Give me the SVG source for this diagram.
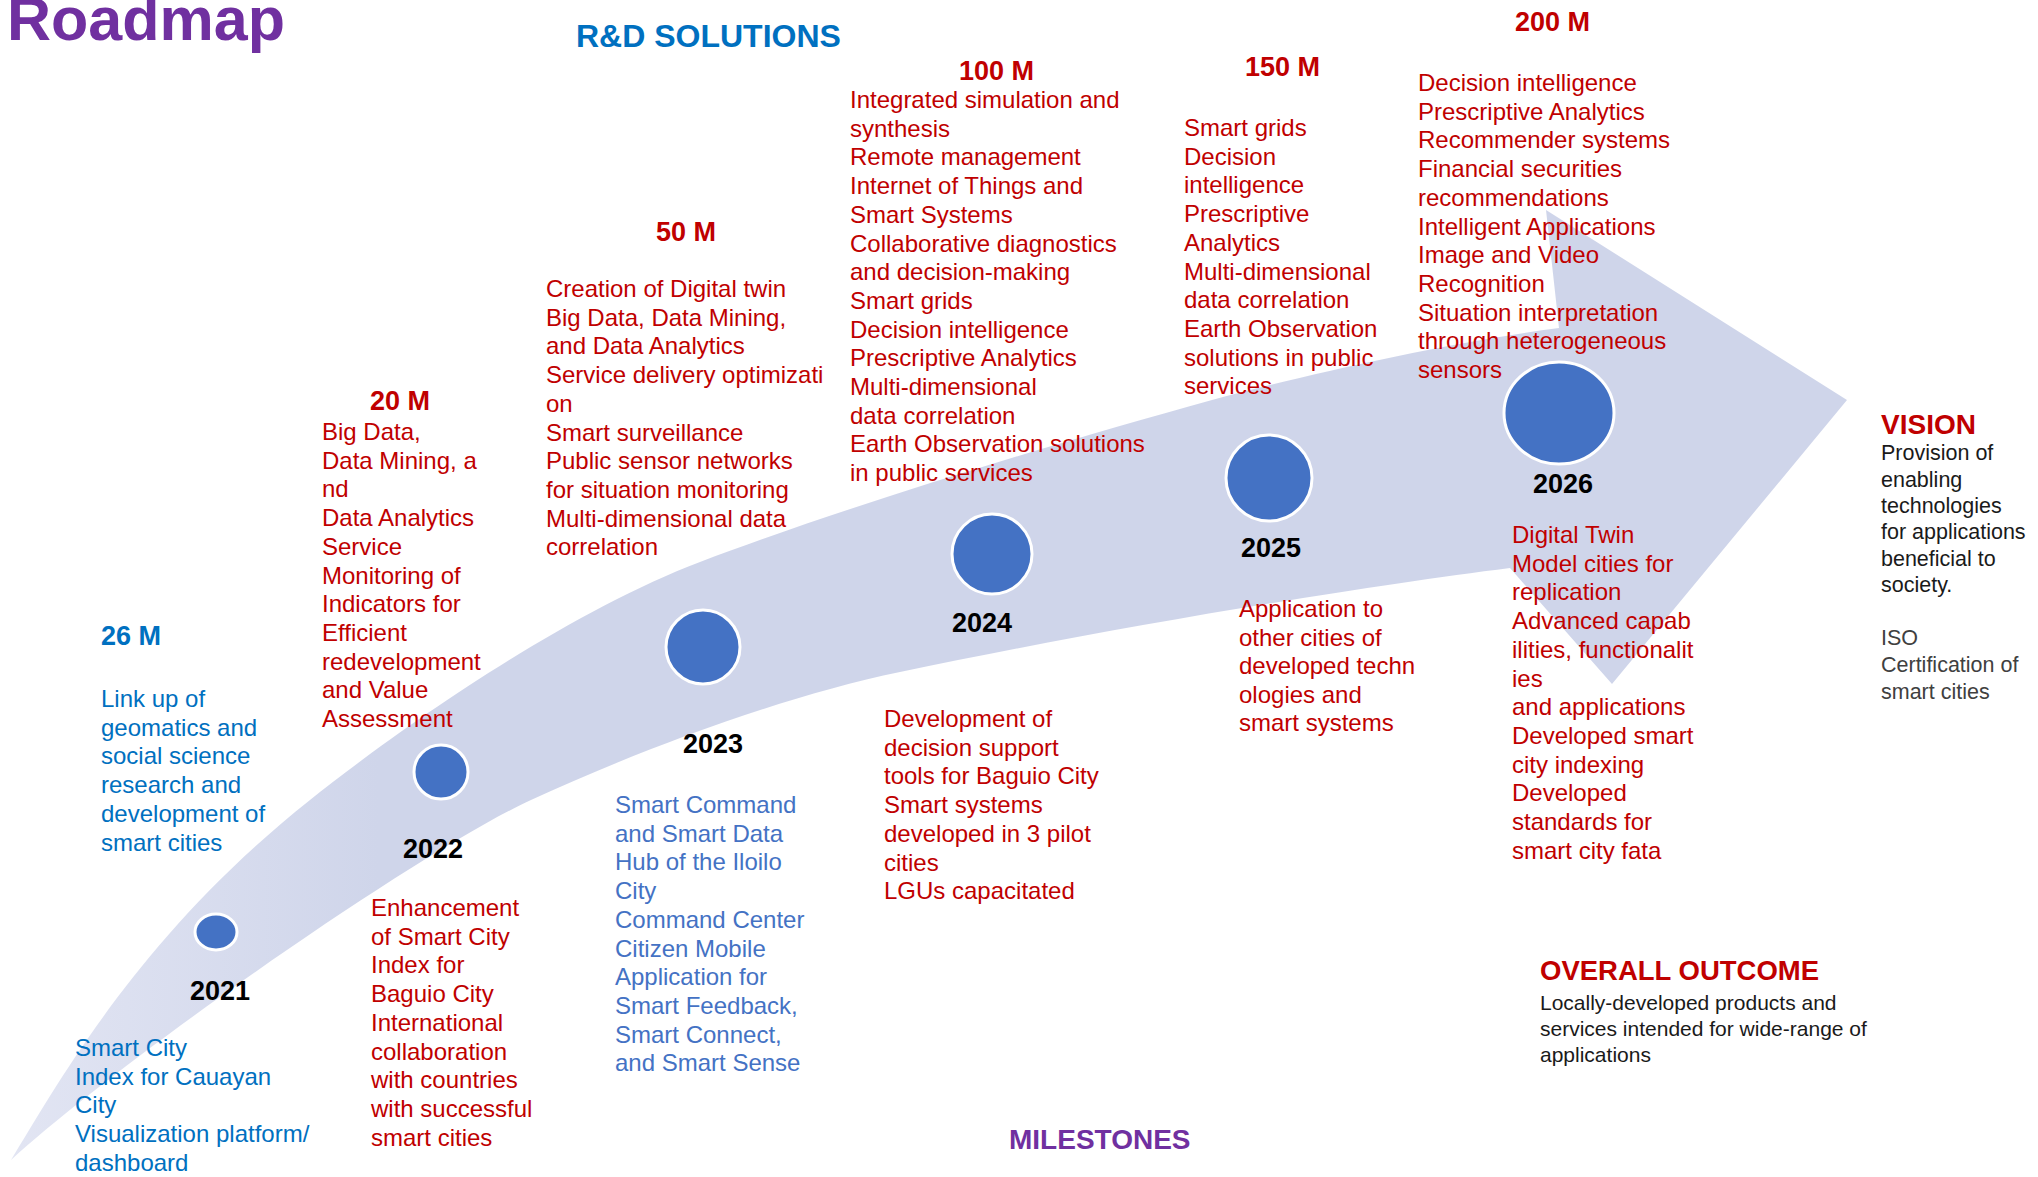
<svg xmlns="http://www.w3.org/2000/svg" width="2038" height="1177" viewBox="0 0 2038 1177">
<defs>
<linearGradient id="ag" x1="0" y1="0" x2="1" y2="0" gradientUnits="objectBoundingBox">
<stop offset="0" stop-color="#E2E5F3"/>
<stop offset="0.2" stop-color="#CFD5EA"/>
<stop offset="1" stop-color="#CFD5EA"/>
</linearGradient>
<style>
text{font-family:"Liberation Sans",Arial,Helvetica,sans-serif}
.t{font-size:24px}
.red{fill:#C00000}
.blu{fill:#0070C0}
.blu2{fill:#4472C4}
.hd{font-size:27px;font-weight:bold}
.yr{font-size:27px;font-weight:bold;fill:#000;text-anchor:middle}
.dot{fill:#4472C4;stroke:#fff;stroke-width:3}
.blk{font-size:21.5px;fill:#1a1a1a}
.gry{font-size:21.5px;fill:#404040}
</style>
</defs>
<rect width="2038" height="1177" fill="#fff"/>
<g id="connectors">
<path id="arrow" fill="url(#ag)" d="M 11 1160 C 60 1080, 140 935, 310 800 C 390 736, 560 615, 700 562 C 850 505, 1050 445, 1212 400 C 1300 376, 1450 342, 1559 328 L 1546 210 L 1847 400 L 1612 684 L 1510 568 C 1350 588, 1100 630, 900 672 C 780 697, 640 750, 531 800 C 420 851, 120 1060, 11 1160 Z"/>
</g>
<g id="title">
<text x="7" y="40" style="font-size:61px;font-weight:bold;fill:#7030A0">Roadmap</text>
<text x="576" y="47" style="font-size:32px;font-weight:bold;fill:#0070C0">R&amp;D SOLUTIONS</text>
<text x="1009" y="1149" style="font-size:28px;font-weight:bold;fill:#7030A0">MILESTONES</text>
</g>
<g id="node-2021">
<ellipse class="dot" cx="216" cy="932" rx="21" ry="18"/>
<text class="yr" x="220" y="1000">2021</text>
<text class="hd blu" x="101" y="645">26 M</text>
<text class="t blu" x="101"><tspan x="101" y="707">Link up of</tspan><tspan x="101" y="735.7">geomatics and</tspan><tspan x="101" y="764.4">social science</tspan><tspan x="101" y="793.1">research and</tspan><tspan x="101" y="821.8">development of</tspan><tspan x="101" y="850.5">smart cities</tspan></text>
<text class="t blu" x="75"><tspan x="75" y="1056">Smart City</tspan><tspan x="75" y="1084.7">Index for Cauayan</tspan><tspan x="75" y="1113.4">City</tspan><tspan x="75" y="1142.1">Visualization platform/</tspan><tspan x="75" y="1170.8">dashboard</tspan></text>
</g>
<g id="node-2022">
<ellipse class="dot" cx="441" cy="772" rx="27" ry="27"/>
<text class="yr" x="433" y="858">2022</text>
<text class="hd red" x="370" y="410">20 M</text>
<text class="t red"><tspan x="322" y="440">Big Data,</tspan><tspan x="322" y="468.7">Data Mining, a</tspan><tspan x="322" y="497.4">nd</tspan><tspan x="322" y="526.1">Data Analytics</tspan><tspan x="322" y="554.8">Service</tspan><tspan x="322" y="583.5">Monitoring of</tspan><tspan x="322" y="612.2">Indicators for</tspan><tspan x="322" y="640.9">Efficient</tspan><tspan x="322" y="669.6">redevelopment</tspan><tspan x="322" y="698.3">and Value</tspan><tspan x="322" y="727">Assessment</tspan></text>
<text class="t red"><tspan x="371" y="916">Enhancement</tspan><tspan x="371" y="944.7">of Smart City</tspan><tspan x="371" y="973.4">Index for</tspan><tspan x="371" y="1002.1">Baguio City</tspan><tspan x="371" y="1030.8">International</tspan><tspan x="371" y="1059.5">collaboration</tspan><tspan x="371" y="1088.2">with countries</tspan><tspan x="371" y="1116.9">with successful</tspan><tspan x="371" y="1145.6">smart cities</tspan></text>
</g>
<g id="node-2023">
<ellipse class="dot" cx="703" cy="647" rx="37" ry="37"/>
<text class="yr" x="713" y="753">2023</text>
<text class="hd red" x="656" y="241">50 M</text>
<text class="t red"><tspan x="546" y="297">Creation of Digital twin</tspan><tspan x="546" y="325.7">Big Data, Data Mining,</tspan><tspan x="546" y="354.4">and Data Analytics</tspan><tspan x="546" y="383.1">Service delivery optimizati</tspan><tspan x="546" y="411.8">on</tspan><tspan x="546" y="440.5">Smart surveillance</tspan><tspan x="546" y="469.2">Public sensor networks</tspan><tspan x="546" y="497.9">for situation monitoring</tspan><tspan x="546" y="526.6">Multi-dimensional data</tspan><tspan x="546" y="555.3">correlation</tspan></text>
<text class="t blu2"><tspan x="615" y="813">Smart Command</tspan><tspan x="615" y="841.7">and Smart Data</tspan><tspan x="615" y="870.4">Hub of the Iloilo</tspan><tspan x="615" y="899.1">City</tspan><tspan x="615" y="927.8">Command Center</tspan><tspan x="615" y="956.5">Citizen Mobile</tspan><tspan x="615" y="985.2">Application for</tspan><tspan x="615" y="1013.9">Smart Feedback,</tspan><tspan x="615" y="1042.6">Smart Connect,</tspan><tspan x="615" y="1071.3">and Smart Sense</tspan></text>
</g>
<g id="node-2024">
<ellipse class="dot" cx="992" cy="554" rx="40" ry="40"/>
<text class="yr" x="982" y="632">2024</text>
<text class="hd red" x="959" y="80">100 M</text>
<text class="t red"><tspan x="850" y="108">Integrated simulation and</tspan><tspan x="850" y="136.7">synthesis</tspan><tspan x="850" y="165.4">Remote management</tspan><tspan x="850" y="194.1">Internet of Things and</tspan><tspan x="850" y="222.8">Smart Systems</tspan><tspan x="850" y="251.5">Collaborative diagnostics</tspan><tspan x="850" y="280.2">and decision-making</tspan><tspan x="850" y="308.9">Smart grids</tspan><tspan x="850" y="337.6">Decision intelligence</tspan><tspan x="850" y="366.3">Prescriptive Analytics</tspan><tspan x="850" y="395">Multi-dimensional</tspan><tspan x="850" y="423.7">data correlation</tspan><tspan x="850" y="452.4">Earth Observation solutions</tspan><tspan x="850" y="481.1">in public services</tspan></text>
<text class="t red"><tspan x="884" y="727">Development of</tspan><tspan x="884" y="755.7">decision support</tspan><tspan x="884" y="784.4">tools for Baguio City</tspan><tspan x="884" y="813.1">Smart systems</tspan><tspan x="884" y="841.8">developed in 3 pilot</tspan><tspan x="884" y="870.5">cities</tspan><tspan x="884" y="899.2">LGUs capacitated</tspan></text>
</g>
<g id="node-2025">
<ellipse class="dot" cx="1269" cy="478" rx="43" ry="43"/>
<text class="yr" x="1271" y="557">2025</text>
<text class="hd red" x="1245" y="76">150 M</text>
<text class="t red"><tspan x="1184" y="136">Smart grids</tspan><tspan x="1184" y="164.7">Decision</tspan><tspan x="1184" y="193.4">intelligence</tspan><tspan x="1184" y="222.1">Prescriptive</tspan><tspan x="1184" y="250.8">Analytics</tspan><tspan x="1184" y="279.5">Multi-dimensional</tspan><tspan x="1184" y="308.2">data correlation</tspan><tspan x="1184" y="336.9">Earth Observation</tspan><tspan x="1184" y="365.6">solutions in public</tspan><tspan x="1184" y="394.3">services</tspan></text>
<text class="t red"><tspan x="1239" y="617">Application to</tspan><tspan x="1239" y="645.5">other cities of</tspan><tspan x="1239" y="674">developed techn</tspan><tspan x="1239" y="702.5">ologies  and</tspan><tspan x="1239" y="731">smart systems</tspan></text>
</g>
<g id="node-2026">
<ellipse class="dot" cx="1559" cy="413" rx="55" ry="51"/>
<text class="yr" x="1563" y="493">2026</text>
<text class="hd red" x="1515" y="31">200 M</text>
<text class="t red"><tspan x="1418" y="91">Decision intelligence</tspan><tspan x="1418" y="119.7">Prescriptive Analytics</tspan><tspan x="1418" y="148.4">Recommender systems</tspan><tspan x="1418" y="177.1">Financial securities</tspan><tspan x="1418" y="205.8">recommendations</tspan><tspan x="1418" y="234.5">Intelligent Applications</tspan><tspan x="1418" y="263.2">Image and Video</tspan><tspan x="1418" y="291.9">Recognition</tspan><tspan x="1418" y="320.6">Situation interpretation</tspan><tspan x="1418" y="349.3">through heterogeneous</tspan><tspan x="1418" y="378">sensors</tspan></text>
<text class="t red"><tspan x="1512" y="543">Digital Twin</tspan><tspan x="1512" y="571.7">Model cities for</tspan><tspan x="1512" y="600.4">replication</tspan><tspan x="1512" y="629.1">Advanced  capab</tspan><tspan x="1512" y="657.8">ilities, functionalit</tspan><tspan x="1512" y="686.5">ies</tspan><tspan x="1512" y="715.2">and applications</tspan><tspan x="1512" y="743.9">Developed smart</tspan><tspan x="1512" y="772.6">city indexing</tspan><tspan x="1512" y="801.3">Developed</tspan><tspan x="1512" y="830">standards for</tspan><tspan x="1512" y="858.7">smart city fata</tspan></text>
</g>
<g id="node-vision">
<text x="1881" y="434" style="font-size:28px;font-weight:bold;fill:#C00000">VISION</text>
<text class="blk"><tspan x="1881" y="460">Provision of</tspan><tspan x="1881" y="487">enabling</tspan><tspan x="1881" y="513">technologies</tspan><tspan x="1881" y="539">for applications</tspan><tspan x="1881" y="566">beneficial to</tspan><tspan x="1881" y="592">society.</tspan></text>
<text class="gry"><tspan x="1881" y="645">ISO</tspan><tspan x="1881" y="672">Certification of</tspan><tspan x="1881" y="699">smart cities</tspan></text>
</g>
<g id="node-outcome">
<text x="1540" y="980" style="font-size:27.5px;font-weight:bold;fill:#C00000">OVERALL  OUTCOME</text>
<text class="blk" style="font-size:21px"><tspan x="1540" y="1010">Locally-developed products and</tspan><tspan x="1540" y="1036">services intended for wide-range of</tspan><tspan x="1540" y="1062">applications</tspan></text>
</g>
</svg>
